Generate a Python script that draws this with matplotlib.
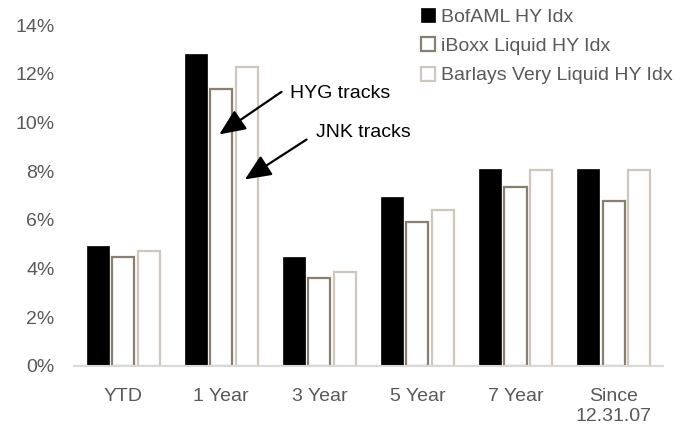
import matplotlib
matplotlib.use("Agg")
import matplotlib.pyplot as plt
import numpy as np

categories = ["YTD", "1 Year", "3 Year", "5 Year", "7 Year", "Since\n12.31.07"]
series_names = ["BofAML HY Idx", "iBoxx Liquid HY Idx", "Barlays Very Liquid HY Idx"]
bofaml = [4.94, 12.83, 4.49, 6.95, 8.07, 8.09]
iboxx = [4.49, 11.36, 3.63, 5.91, 7.36, 6.76]
barclays = [4.73, 12.26, 3.84, 6.40, 8.05, 8.05]
y_ticks = [0, 2, 4, 6, 8, 10, 12, 14]

plt.rcParams['font.family'] = ['Liberation Sans Narrow', 'Liberation Sans', 'DejaVu Sans']

fig = plt.figure(figsize=(6.86, 4.33), dpi=100)
ax = fig.add_axes([0.108, 0.155, 0.858, 0.787])

x = np.arange(len(categories))
w = 0.225
off = 0.26
gray_txt = "#595959"
fs = 14
ax.bar(x - off, bofaml, w, color="black", edgecolor="black", linewidth=0.5, label=series_names[0])
ax.bar(x, iboxx, w, color="white", edgecolor="#8a7e70", linewidth=1.6, label=series_names[1])
ax.bar(x + off, barclays, w, color="white", edgecolor="#cfc7bc", linewidth=1.6, label=series_names[2])

ax.set_xlim(-0.5, len(categories) - 0.5)
ax.set_ylim(0, 14)
ax.set_yticks(y_ticks)
ax.set_yticklabels([f"{v}%" for v in y_ticks])
ax.set_xticks(x)
ax.set_xticklabels(categories, linespacing=1.2)
ax.tick_params(axis='both', length=0, labelsize=fs, colors=gray_txt)
ax.tick_params(axis='y', pad=14)
ax.tick_params(axis='x', pad=16)
for s in ["top", "right", "left"]:
    ax.spines[s].set_visible(False)
ax.spines["bottom"].set_color("#d9d9d9")
ax.spines["bottom"].set_linewidth(1.5)

arrow = dict(arrowstyle="-|>,head_length=0.8,head_width=0.35", color="black", lw=1.6,
             mutation_scale=20, shrinkA=0, shrinkB=0)
ax.annotate("", xy=(0.98, 9.51), xytext=(1.615, 11.26), arrowprops=arrow)
ax.text(1.70, 11.19, "HYG tracks", fontsize=fs, ha="left", va="center", color="black")
ax.annotate("", xy=(1.241, 7.66), xytext=(1.87, 9.30), arrowprops=arrow)
ax.text(1.97, 9.58, "JNK tracks", fontsize=fs, ha="left", va="center", color="black")

leg = ax.legend(loc="upper left", bbox_to_anchor=(417 / 686, 1.0 - 4 / 433), bbox_transform=fig.transFigure,
                frameon=False, fontsize=fs, handlelength=0.72, handleheight=0.72,
                handletextpad=0.3, labelspacing=0.6, borderaxespad=0.0, borderpad=0.2)
for t in leg.get_texts():
    t.set_color(gray_txt)

fig.savefig("out.png", dpi=100)
